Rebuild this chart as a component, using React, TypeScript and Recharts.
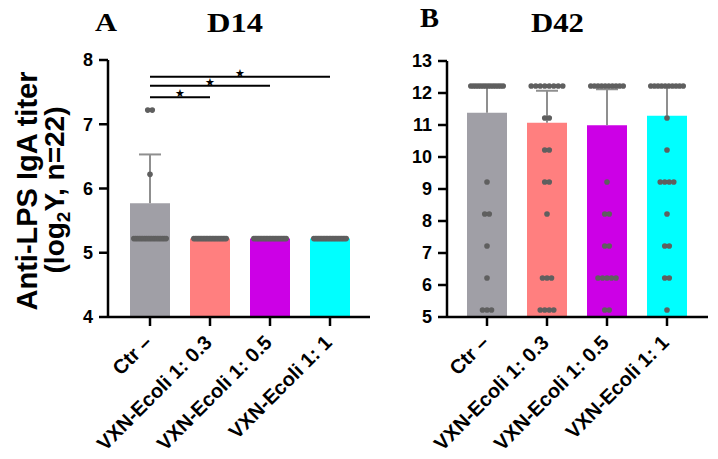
import React from 'react';
import { ComposedChart, Bar, Scatter, XAxis, YAxis, ReferenceLine, Cell } from 'recharts';

const SANS = "'Liberation Sans', Arial, Helvetica, sans-serif";
const SERIF = "'Liberation Serif', 'Times New Roman', serif";

// Groups shown on both panels
const categories = ['Ctr –', 'VXN-Ecoli 1: 0.3', 'VXN-Ecoli 1: 0.5', 'VXN-Ecoli 1: 1'];
const barColors = ['#a09fa6', '#ff7f7f', '#cc00e6', '#00ffff'];

// Day 14: group means, SD (upper error bar) and individual titers as [value, count]
const d14Mean = [5.77, 5.22, 5.22, 5.22];
const d14Sd = [0.76, 0, 0, 0];
const d14Ticks = [4, 5, 6, 7, 8];
const d14Points: [number, number][][] = [
  [[5.22, 19], [6.22, 1], [7.22, 2]],
  [[5.22, 22]],
  [[5.22, 22]],
  [[5.22, 22]],
];
// Significance brackets from Ctr – to each vaccine group
const d14SigTo = [1, 2, 3];
const d14SigY = [7.42, 7.6, 7.74];
const d14SigMark = ['★', '★', '★'];

// Day 42
const d42Mean = [11.38, 11.07, 10.99, 11.29];
const d42Sd = [0.84, 1.0, 1.13, 0.92];
const d42Ticks = [5, 6, 7, 8, 9, 10, 11, 12, 13];
const d42Points: [number, number][][] = [
  [[12.22, 14], [9.22, 1], [8.22, 2], [7.22, 1], [6.22, 1], [5.22, 3]],
  [[12.22, 8], [11.22, 2], [10.22, 2], [9.22, 2], [8.22, 1], [6.22, 3], [5.22, 4]],
  [[12.22, 10], [9.22, 1], [8.22, 2], [7.22, 2], [6.22, 5], [5.22, 2]],
  [[12.22, 10], [11.22, 1], [10.22, 1], [9.22, 4], [8.22, 1], [7.22, 2], [6.22, 2], [5.22, 1]],
];

const DOT_R = 2.8;
const DOT_STEP = 4.5;
const DOT_SPAN = 38;

const barRows = (means: number[]) => categories.map((cat, i) => ({ cat, mean: means[i] }));

const dotRows = (points: [number, number][][]) =>
  points.flatMap((rows, g) =>
    rows.flatMap(([v, n]) => Array.from({ length: n }, (_, slot) => ({ cat: categories[g], v, slot, n })))
  );

const DotShape = (props: any) => {
  const { cx, cy, payload } = props;
  if (cx == null || cy == null) return <g />;
  const n = payload.n;
  const step = n > 1 ? Math.min(DOT_STEP, (DOT_SPAN - 2 * DOT_R) / (n - 1)) : 0;
  const off = (payload.slot - (n - 1) / 2) * step;
  return <circle cx={cx + off} cy={cy} r={DOT_R} fill="#5f5f5f" />;
};

const CapShape = (props: any) => {
  const { cx, cy, payload } = props;
  if (!payload.cap || cx == null) return <g />;
  return <line x1={cx - 11} x2={cx + 11} y1={cy} y2={cy} stroke="#8f8f8f" strokeWidth={2} />;
};

const XTick = (props: any) => {
  const { x, y, payload } = props;
  const ax = x + 3;
  const ay = y + 16;
  return (
    <text
      x={ax}
      y={ay}
      transform={`rotate(-45 ${ax} ${ay})`}
      textAnchor="end"
      fontFamily={SANS}
      fontWeight="bold"
      fontSize={20}
      fill="#000"
    >
      {payload.value}
    </text>
  );
};

const axisStroke = { stroke: '#000', strokeWidth: 2.5 };
const yTickStyle = { fontSize: 18, fontWeight: 'bold', fill: '#000', fontFamily: SANS };

type PanelProps = {
  means: number[];
  sds: number[];
  points: [number, number][][];
  ticks: number[];
  margin: { top: number; right: number; bottom: number; left: number };
  width: number;
  pad: { left: number; right: number };
  children?: React.ReactNode;
};

const Panel = ({ means, sds, points, ticks, margin, width, pad, children }: PanelProps) => (
  <ComposedChart width={width} height={459} data={barRows(means)} margin={margin}>
    <XAxis
      dataKey="cat"
      type="category"
      allowDuplicatedCategory={false}
      interval={0}
      padding={pad}
      height={130}
      tick={<XTick />}
      tickSize={9}
      axisLine={axisStroke}
      tickLine={axisStroke}
    />
    <YAxis
      type="number"
      domain={[ticks[0], ticks[ticks.length - 1]]}
      ticks={ticks}
      allowDataOverflow
      width={60}
      tick={yTickStyle}
      tickSize={9}
      tickMargin={6}
      axisLine={axisStroke}
      tickLine={axisStroke}
    />
    <Bar dataKey="mean" barSize={40} isAnimationActive={false}>
      {categories.map((c, i) => (
        <Cell key={c} fill={barColors[i]} />
      ))}
    </Bar>
    {means.map((m, g) =>
      sds[g] > 0 ? (
        <Scatter
          key={`err-${g}`}
          data={[
            { cat: categories[g], v: m },
            { cat: categories[g], v: m + sds[g], cap: true },
          ]}
          dataKey="v"
          line={{ stroke: '#8f8f8f', strokeWidth: 2 }}
          shape={<CapShape />}
          isAnimationActive={false}
        />
      ) : null
    )}
    <Scatter data={dotRows(points)} dataKey="v" shape={<DotShape />} isAnimationActive={false} />
    {children}
  </ComposedChart>
);

export default function App() {
  return (
    <div style={{ position: 'absolute', left: 0, top: 0, width: 718, height: 459, background: '#fff' }}>
      <div style={{ position: 'absolute', left: 0, top: 0 }}>
        <Panel
          means={d14Mean}
          sds={d14Sd}
          points={d14Points}
          ticks={d14Ticks}
          width={380}
          margin={{ top: 60, right: 10, bottom: 12, left: 48 }}
          pad={{ left: 12, right: 10 }}
        >
          {d14SigTo.map((to, k) => (
            <ReferenceLine
              key={`sig-${k}`}
              segment={[
                { x: categories[0], y: d14SigY[k] },
                { x: categories[to], y: d14SigY[k] },
              ]}
              stroke="#000"
              strokeWidth={2}
              label={{ value: d14SigMark[k], position: 'top', offset: 0, fontSize: 11, fill: '#000' }}
            />
          ))}
        </Panel>
      </div>
      <div style={{ position: 'absolute', left: 380, top: 0 }}>
        <Panel
          means={d42Mean}
          sds={d42Sd}
          points={d42Points}
          ticks={d42Ticks}
          width={338}
          margin={{ top: 61, right: 10, bottom: 12, left: 7 }}
          pad={{ left: 10, right: 11 }}
        />
      </div>
      <svg
        width={718}
        height={459}
        style={{ position: 'absolute', left: 0, top: 0, pointerEvents: 'none' }}
      >
        <text x={95} y={31} fontFamily={SERIF} fontWeight="bold" fontSize={26} textLength={22} lengthAdjust="spacingAndGlyphs">
          A
        </text>
        <text x={207} y={32} fontFamily={SERIF} fontWeight="bold" fontSize={27} textLength={56} lengthAdjust="spacingAndGlyphs">
          D14
        </text>
        <text x={420} y={27} fontFamily={SERIF} fontWeight="bold" fontSize={27} textLength={19} lengthAdjust="spacingAndGlyphs">
          B
        </text>
        <text x={531} y={32} fontFamily={SERIF} fontWeight="bold" fontSize={27} textLength={53} lengthAdjust="spacingAndGlyphs">
          D42
        </text>
        <text
          x={37}
          y={191}
          transform="rotate(-90 37 191)"
          textAnchor="middle"
          fontFamily={SANS}
          fontWeight="bold"
          fontSize={29}
        >
          Anti-LPS IgA titer
        </text>
        <text
          x={64}
          y={190}
          transform="rotate(-90 64 190)"
          textAnchor="middle"
          fontFamily={SANS}
          fontWeight="bold"
          fontSize={28}
        >
          (log
          <tspan fontSize={19} dy={6}>2</tspan>
          <tspan dy={-6}>Y, n=22)</tspan>
        </text>
      </svg>
    </div>
  );
}
